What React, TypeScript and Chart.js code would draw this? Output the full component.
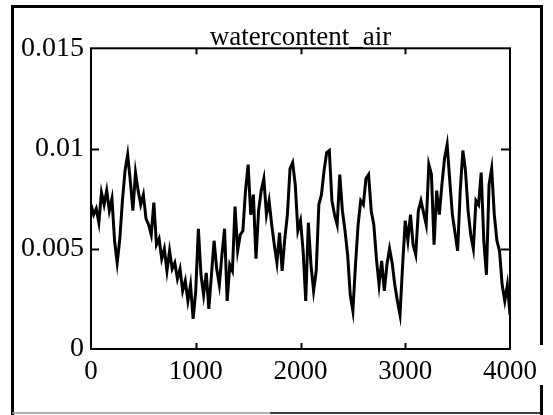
import { useEffect, useRef } from "react";
import { Chart, registerables } from "chart.js";

Chart.register(...registerables);

const chartTitle = "watercontent_air";
const sampleStep = 25;
const waterContent = [
  0.0072, 0.0067, 0.0070, 0.0063, 0.0078, 0.0072, 0.0079, 0.0069, 0.0075, 0.0054, 0.0043,
  0.0055, 0.0074, 0.0089, 0.0097, 0.0084, 0.0069, 0.0088, 0.0079, 0.0072, 0.0077,
  0.0065, 0.0062, 0.0057, 0.0073, 0.0052, 0.0055, 0.0045, 0.0050, 0.0039, 0.0049,
  0.0040, 0.0043, 0.0035, 0.0040, 0.0029, 0.0034, 0.0024, 0.0032, 0.0015, 0.0029,
  0.0060, 0.0037, 0.0027, 0.0038, 0.0020, 0.0037, 0.0054, 0.0040, 0.0032, 0.0047,
  0.0060, 0.0024, 0.0042, 0.0039, 0.0071, 0.0049, 0.0057, 0.0059, 0.0079, 0.0092,
  0.0067, 0.0077, 0.0045, 0.0069, 0.0079, 0.0085, 0.0067, 0.0074, 0.0062, 0.0052,
  0.0043, 0.0058, 0.0039, 0.0055, 0.0067, 0.0090, 0.0093, 0.0082, 0.0059, 0.0064,
  0.0049, 0.0024, 0.0063, 0.0042, 0.0029, 0.0039, 0.0072, 0.0077, 0.0089, 0.0098,
  0.0099, 0.0074, 0.0067, 0.0062, 0.0087, 0.0069, 0.0059, 0.0047, 0.0027, 0.0019,
  0.0042, 0.0062, 0.0074, 0.0072, 0.0085, 0.0087, 0.0069, 0.0062, 0.0045, 0.0032,
  0.0044, 0.0029, 0.0042, 0.0050, 0.0043, 0.0032, 0.0024, 0.0017, 0.0042, 0.0064,
  0.0054, 0.0067, 0.0052, 0.0047, 0.0069, 0.0074, 0.0068, 0.0062, 0.0092, 0.0087,
  0.0052, 0.0079, 0.0067, 0.0082, 0.0095, 0.0102, 0.0084, 0.0067, 0.0058, 0.0049,
  0.0079, 0.0099, 0.0089, 0.0069, 0.0057, 0.0050, 0.0074, 0.0072, 0.0088, 0.0054,
  0.0037, 0.0082, 0.0090, 0.0067, 0.0054, 0.0049, 0.0032, 0.0024, 0.0032, 0.0017,
];
const xTicks = [0, 1000, 2000, 3000, 4000];
const xTickLabels = ["0", "1000", "2000", "3000", "4000"];
const yTicks = [0, 0.005, 0.01, 0.015];
const yTickLabels = ["0", "0.005", "0.01", "0.015"];

const FONT = "'Liberation Serif', 'Times New Roman', serif";

const framePlugin = {
  id: "frame",
  afterDraw(chart: any) {
    const { ctx, chartArea: a, scales } = chart;
    const line = (x1: number, y1: number, x2: number, y2: number) => {
      ctx.beginPath();
      ctx.moveTo(x1, y1);
      ctx.lineTo(x2, y2);
      ctx.stroke();
    };
    ctx.save();
    ctx.strokeStyle = "#000";
    ctx.lineWidth = 2;
    ctx.strokeRect(a.left, a.top, a.right - a.left, a.bottom - a.top);
    xTicks.slice(1, -1).forEach((v) => {
      const px = Math.round(scales.x.getPixelForValue(v)) + 0.5;
      line(px, a.bottom, px, a.bottom - 6);
      line(px, a.top, px, a.top + 6);
    });
    yTicks.slice(1, -1).forEach((v) => {
      const py = Math.round(scales.y.getPixelForValue(v)) + 0.5;
      line(a.left, py, a.left + 8, py);
      line(a.right, py, a.right - 9, py);
    });
    // outer frame of the figure
    ctx.lineWidth = 3;
    line(12.5, 5, 12.5, 415);
    line(11, 6.5, 542, 6.5);
    line(541.5, 5, 541.5, 345);
    line(541.5, 385, 541.5, 415);
    ctx.lineWidth = 1.5;
    ctx.strokeStyle = "#999";
    line(12, 413, 270, 413);
    ctx.strokeStyle = "#000";
    line(270, 413, 542, 413);
    ctx.restore();
  },
};

export default function App() {
  const ref = useRef<HTMLCanvasElement | null>(null);
  useEffect(() => {
    if (!ref.current) return;
    const chart = new Chart(ref.current, {
      type: "line",
      data: {
        datasets: [
          {
            data: waterContent.map((v, i) => ({ x: i * sampleStep, y: v })),
            borderColor: "#000",
            borderWidth: 3,
            pointRadius: 0,
            tension: 0,
            fill: false,
          },
        ],
      },
      options: {
        animation: false,
        responsive: false,
        maintainAspectRatio: false,
        layout: { padding: { left: 0, right: 43, top: 1.2, bottom: 0 } },
        plugins: {
          legend: { display: false },
          tooltip: { enabled: false },
          title: {
            display: true,
            text: chartTitle,
            fullSize: false,
            color: "#000",
            font: { family: FONT, size: 27, weight: "normal", lineHeight: 0.8 },
            padding: { top: 25.5, bottom: 0 },
          },
        },
        scales: {
          x: {
            type: "linear",
            min: 0,
            max: 4000,
            grid: { display: false, drawTicks: false },
            border: { display: false },
            afterBuildTicks: (s: any) => {
              s.ticks = xTicks.map((v) => ({ value: v }));
            },
            afterFit: (s: any) => {
              s.height = 66;
            },
            ticks: {
              color: "#000",
              font: { family: FONT, size: 27 },
              padding: 7,
              maxRotation: 0,
              autoSkip: false,
              callback: (_v: any, i: number) => xTickLabels[i],
            },
          },
          y: {
            type: "linear",
            min: 0,
            max: 0.015,
            grid: { display: false, drawTicks: false },
            border: { display: false },
            afterBuildTicks: (s: any) => {
              s.ticks = yTicks.map((v) => ({ value: v }));
            },
            afterFit: (s: any) => {
              s.width = 91;
            },
            ticks: {
              color: "#000",
              font: { family: FONT, size: 28 },
              padding: 7,
              autoSkip: false,
              callback: (_v: any, i: number) => yTickLabels[i],
            },
          },
        },
      },
      plugins: [framePlugin],
    });
    return () => chart.destroy();
  }, []);
  return (
    <div style={{ position: "fixed", left: 0, top: 0, width: 553, height: 415, background: "#fff" }}>
      <canvas ref={ref} width={553} height={415} style={{ display: "block" }} />
    </div>
  );
}
